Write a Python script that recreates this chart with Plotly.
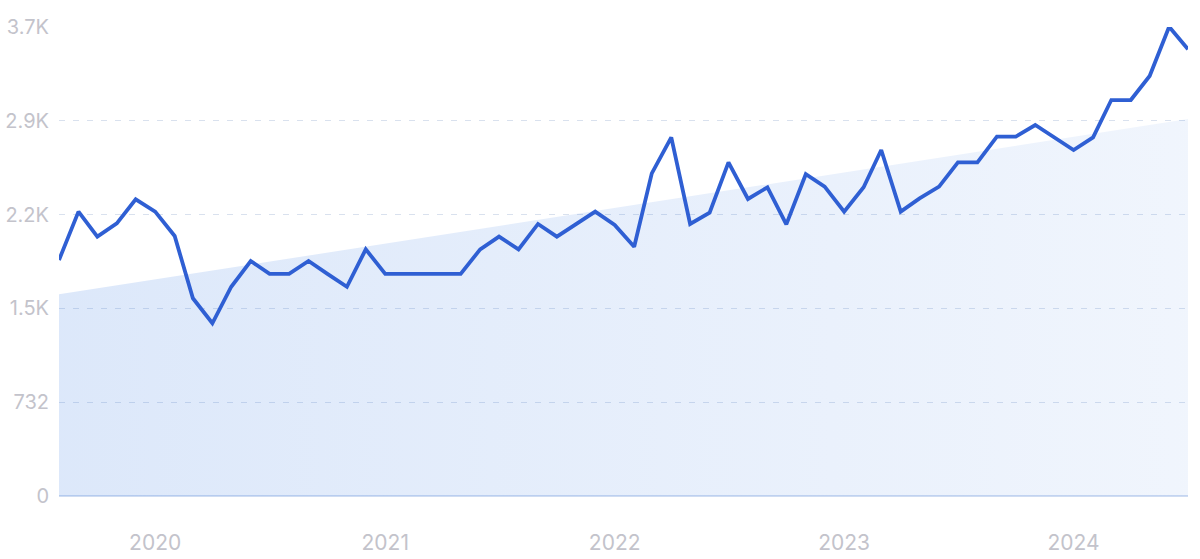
import plotly.graph_objects as go
import pandas as pd

months = pd.date_range("2019-08-01", "2024-07-01", freq="MS").strftime("%Y-%m-%d").tolist()
values = [1842, 2219, 2024, 2128, 2315, 2219, 2029, 1543, 1348, 1633,
          1834, 1733, 1733, 1834, 1733, 1633, 1925, 1733, 1733, 1733,
          1733, 1733, 1925, 2024, 1925, 2123, 2024, 2123, 2219, 2115,
          1945, 2518, 2799, 2123, 2211, 2604, 2318, 2409, 2120, 2511,
          2414, 2219, 2409, 2700, 2219, 2323, 2414, 2604, 2604, 2804,
          2804, 2895, 2796, 2700, 2799, 3090, 3090, 3278, 3662, 3486]
trend_values = [1574, 2942]
y_ticks = [0, 732, 1464, 2196, 2928, 3660]
y_tick_labels = ["0", "732", "1.5K", "2.2K", "2.9K", "3.7K"]
x_tick_dates = ["2020-01-01", "2021-01-01", "2022-01-01", "2023-01-01", "2024-01-01"]
x_tick_labels = ["2020", "2021", "2022", "2023", "2024"]

fig = go.Figure()
fig.add_trace(go.Scatter(
    x=[months[0], months[-1]], y=trend_values, mode="lines",
    line=dict(width=0, color="rgba(0,0,0,0)"),
    fill="tozeroy",
    fillgradient=dict(type="horizontal",
                      colorscale=[[0, "rgba(45,115,225,0.165)"],
                                  [1, "rgba(45,115,225,0.07)"]]),
    hoverinfo="skip", showlegend=False))
fig.add_trace(go.Scatter(
    x=months, y=values, mode="lines",
    line=dict(color="#2f5fd3", width=3.8),
    showlegend=False, cliponaxis=False))

fig.update_layout(
    width=1200, height=559,
    margin=dict(l=59, r=12, t=27, b=63, autoexpand=False),
    paper_bgcolor="white", plot_bgcolor="white",
    font=dict(family="Inter, Roboto, sans-serif", color="#c3c3cb"),
)
fig.update_xaxes(
    range=[months[0], months[-1]], tickvals=x_tick_dates, ticktext=x_tick_labels,
    showgrid=False, zeroline=False, showline=False, ticks="", automargin=False,
    tickfont=dict(size=21, color="#c3c3cb"), ticklabelstandoff=32,
)
fig.update_yaxes(
    range=[0, 3660], tickvals=y_ticks, ticktext=y_tick_labels,
    showgrid=True, gridcolor="#d9e1ee", griddash="6px,8px", gridwidth=1,
    zeroline=True, zerolinecolor="#cfdcf2", zerolinewidth=1.5,
    showline=False, ticks="", automargin=False,
    tickfont=dict(size=20, color="#c3c3cb"), ticklabelstandoff=9,
)

fig.write_html("out.html", config={"displayModeBar": False},
               post_script="document.body.style.margin='0';")
